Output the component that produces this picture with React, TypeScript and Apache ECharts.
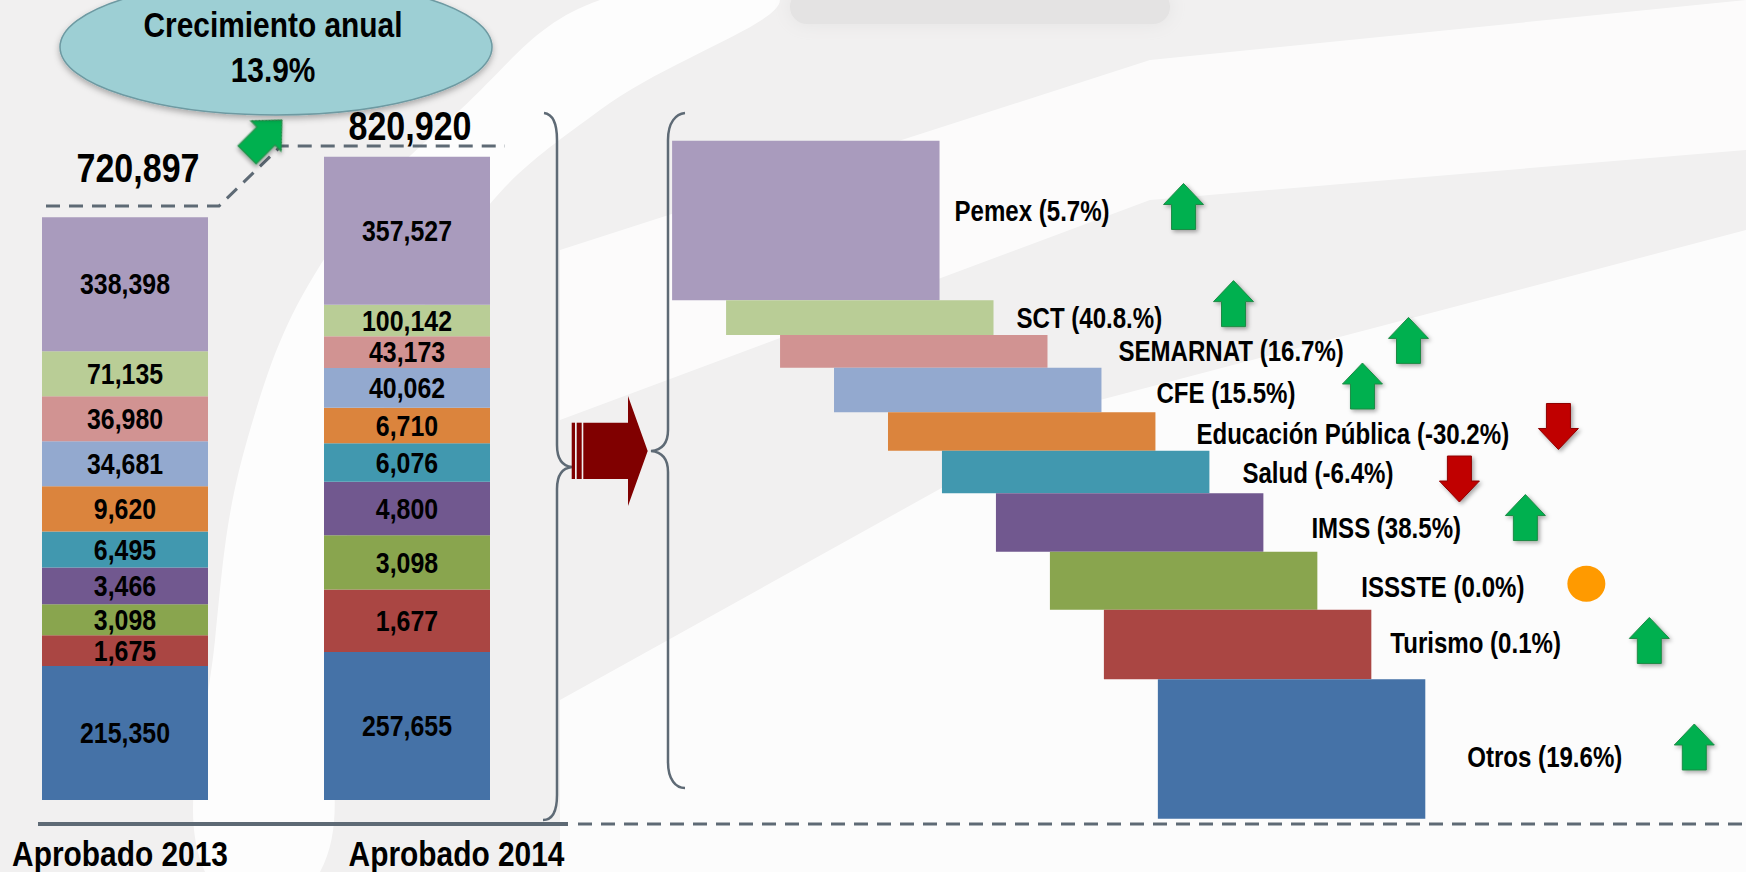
import React, { useEffect, useRef } from 'react';
import * as echarts from 'echarts';

// ---------- data ----------
const departments = ['Pemex', 'SCT', 'SEMARNAT', 'CFE', 'Educación Pública', 'Salud', 'IMSS', 'ISSSTE', 'Turismo', 'Otros'];
const approved2013 = [338398, 71135, 36980, 34681, 9620, 6495, 3466, 3098, 1675, 215350];
const approved2014 = [357527, 100142, 43173, 40062, 6710, 6076, 4800, 3098, 1677, 257655];
const years = ['Aprobado 2013', 'Aprobado 2014'];
const yearTotals = [720897, 820920];
const annualGrowth = 13.9;
const detailLabels = ['Pemex (5.7%)', 'SCT (40.8.%)', 'SEMARNAT (16.7%)', 'CFE (15.5%)', 'Educación Pública (-30.2%)', 'Salud (-6.4%)', 'IMSS (38.5%)', 'ISSSTE (0.0%)', 'Turismo (0.1%)', 'Otros (19.6%)'];
// the infographic is not drawn to scale: drawn block heights (display units)
const blockHeight2013 = [20.8, 7.0, 7.0, 7.0, 7.0, 5.6, 5.7, 4.8, 4.8, 20.8];
const blockHeight2014 = [23.0, 4.9, 4.9, 6.2, 5.5, 6.0, 8.3, 8.4, 9.7, 23.0];
const blockHeightDetail = [24.8, 5.4, 5.1, 6.9, 6.0, 6.6, 9.1, 9.0, 10.8, 21.7];

// ---------- style / layout ----------
const FONT = '"Liberation Sans Narrow", "Arial Narrow", "Liberation Sans", Arial, sans-serif';
const NARROW = 0.83; // horizontal squeeze to mimic a narrow typeface
const palette = ['#A99BBD', '#B9CD96', '#D19392', '#93A9CF', '#DB843D', '#4198AF', '#71588F', '#89A54E', '#AA4643', '#4572A7'];
const LINE = '#5E6A75';
const BAR_SPAN = 4.955; // block width in steps of the staircase
// label / marker nudges relative to block right edge and block middle: [labelDx, labelDy, markDx, markDy]
const calloutNudge = [
  [15, -9, 244, -14],
  [23, 1, 240, -14],
  [71, 0, 361, -11],
  [55, 3, 261, -4],
  [41, 3, 403, -5],
  [33, 1, 250, 7],
  [48, 6, 262, -5],
  [44, 6, 269, 3],
  [19, -1, 278, -4],
  [42, 8, 269, -2],
];
const totalNudge = [[13, -49], [3, -30.5]]; // total label offset from stack top
const yearNudge = [[-5, 53], [49.5, 53]]; // year label offset from stack base

const upArrow = [[0, -23], [20, -2], [12, -2], [12, 23], [-12, 23], [-12, -2], [-20, -2]];
const downArrow = upArrow.map(([x, y]) => [x, -y]);

const fmt = (v: number) => v.toLocaleString('en-US');

function narrowText(text: string, x: number, y: number, size: number, align = 'center', z2 = 10) {
  return {
    type: 'text',
    x, y, scaleX: NARROW, z2,
    style: { text, x: 0, y: 0, align, verticalAlign: 'middle', fontFamily: FONT, fontWeight: 'bold', fontSize: size, fill: '#000' },
  };
}

const braceRight = 'M544,113 C552,114 557,122 557,140 L557,445 C557,458 562,466 572,467 C562,468 557,476 557,489 L557,795 C557,812 552,820 543,820';
const braceLeft = 'M685,113 C676,114 668,122 668,140 L668,430 C668,443 662,450 651,451 C662,452 668,459 668,472 L668,762 C668,780 676,788 685,788';
echarts.graphic.registerShape('braceR', echarts.graphic.extendPath(braceRight, {}));
echarts.graphic.registerShape('braceL', echarts.graphic.extendPath(braceLeft, {}));

function buildOption() {
  const order = departments.map((_, i) => i).reverse(); // stack from bottom (Otros) to top (Pemex)
  const barSeries = order.map((i) => ({
    type: 'bar',
    name: departments[i],
    stack: 'total',
    xAxisIndex: 0,
    yAxisIndex: 0,
    barWidth: 166,
    data: [blockHeight2013[i], blockHeight2014[i]],
    itemStyle: { color: palette[i] },
  }));

  // value labels, totals and year captions, anchored on the stacked bars through the axes
  const barTextSeries = {
    type: 'custom',
    xAxisIndex: 0,
    yAxisIndex: 0,
    silent: true,
    z: 5,
    encode: { x: 0, y: 1 },
    data: years.map((_, k) => [k, 0]),
    renderItem: (params: any, api: any) => {
      const k = params.dataIndex;
      const heights = k === 0 ? blockHeight2013 : blockHeight2014;
      const vals = k === 0 ? approved2013 : approved2014;
      const children: any[] = [];
      let acc = 0;
      order.forEach((i) => {
        const p = api.coord([k, acc + heights[i] / 2]);
        children.push(narrowText(fmt(vals[i]), p[0], p[1], 30));
        acc += heights[i];
      });
      const top = api.coord([k, acc]);
      children.push(narrowText(fmt(yearTotals[k]), top[0] + totalNudge[k][0], top[1] + totalNudge[k][1], 41));
      const base = api.coord([k, 0]);
      children.push(narrowText(years[k], base[0] + yearNudge[k][0], base[1] + yearNudge[k][1], 36));
      return { type: 'group', children };
    },
  };

  const cum: number[] = [];
  let acc = 0;
  blockHeightDetail.forEach((h) => { cum.push(acc); acc += h; });
  const detailTotal = acc;

  const stairSeries = {
    type: 'custom',
    xAxisIndex: 1,
    yAxisIndex: 1,
    encode: { x: 0, y: [1, 2] },
    data: departments.map((_, i) => [i, cum[i], cum[i] + blockHeightDetail[i]]),
    renderItem: (params: any, api: any) => {
      const i = params.dataIndex;
      const p0 = api.coord([api.value(0), api.value(1)]);
      const p1 = api.coord([api.value(0) + BAR_SPAN, api.value(2)]);
      const right = p1[0];
      const cy = (p0[1] + p1[1]) / 2;
      const n = calloutNudge[i];
      const g = Math.round((approved2014[i] / approved2013[i] - 1) * 1000) / 10;
      const markStyle = {
        shadowBlur: 4, shadowOffsetX: 2, shadowOffsetY: 2, shadowColor: 'rgba(0,0,0,0.35)',
        lineWidth: 1,
      };
      let mark: any;
      if (g > 0) {
        mark = { type: 'polygon', x: right + n[2], y: cy + n[3], shape: { points: upArrow }, style: { ...markStyle, fill: '#00B050', stroke: '#1F8A45' } };
      } else if (g < 0) {
        mark = { type: 'polygon', x: right + n[2], y: cy + n[3], shape: { points: downArrow }, style: { ...markStyle, fill: '#C00000', stroke: '#8E0000' } };
      } else {
        mark = { type: 'ellipse', x: right + n[2], y: cy + n[3], shape: { cx: 0, cy: 0, rx: 19, ry: 18 }, style: { fill: '#FF9A00' } };
      }
      return {
        type: 'group',
        children: [
          { type: 'rect', shape: { x: p0[0], y: p0[1], width: p1[0] - p0[0], height: p1[1] - p0[1] }, style: { fill: palette[i] } },
          narrowText(detailLabels[i], right + n[0], cy + n[1], 29, 'left'),
          mark,
        ],
      };
    },
  };

  const graphic: any[] = [
    // background swooshes
    {
      type: 'polygon', z: -10, silent: true,
      shape: { smooth: 0.4, points: [[205, 872], [215, 640], [250, 430], [330, 250], [460, 110], [600, 0], [780, 0], [600, 110], [470, 230], [380, 420], [330, 640], [320, 872]] },
      style: { fill: '#FFFFFF', opacity: 0.85 },
    },
    {
      type: 'polygon', z: -10, silent: true,
      shape: { points: [[560, 250], [1150, 60], [1746, 0], [1746, 150], [1150, 200], [560, 420]] },
      style: { fill: '#FFFFFF', opacity: 0.75 },
    },
    {
      type: 'polygon', z: -10, silent: true,
      shape: { points: [[560, 700], [1100, 400], [1746, 230], [1746, 872], [560, 872]] },
      style: { fill: '#FFFFFF', opacity: 0.8 },
    },
    {
      type: 'rect', z: -9, silent: true,
      shape: { x: 790, y: -10, width: 380, height: 34, r: 17 },
      style: { fill: '#E4E3E3', shadowBlur: 18, shadowColor: '#E4E3E3' },
    },
    // braces and transfer arrow
    { type: 'braceR', z: 50, style: { stroke: LINE, lineWidth: 2.5, fill: 'none' } },
    { type: 'braceL', z: 50, style: { stroke: LINE, lineWidth: 2.5, fill: 'none' } },
    { type: 'rect', z: 51, shape: { x: 571.7, y: 422.7, width: 3.3, height: 56.3 }, style: { fill: '#800000' } },
    { type: 'rect', z: 51, shape: { x: 576.7, y: 422.7, width: 5, height: 56.3 }, style: { fill: '#800000' } },
    {
      type: 'polygon', z: 51,
      shape: { points: [[583.3, 422.7], [628, 422.7], [628, 396], [647.7, 451], [628, 506], [628, 479], [583.3, 479]] },
      style: { fill: '#800000' },
    },
    // base lines
    { type: 'line', z: 40, shape: { x1: 38, y1: 824, x2: 568, y2: 824 }, style: { stroke: LINE, lineWidth: 4 } },
    { type: 'line', z: 40, shape: { x1: 578, y1: 824, x2: 1746, y2: 824 }, style: { stroke: LINE, lineWidth: 3, lineDash: [14, 9] } },
    // totals connector
    {
      type: 'polyline', z: 40,
      shape: { points: [[46, 206], [219, 206], [281, 146], [505, 146]] },
      style: { stroke: LINE, lineWidth: 3, lineDash: [14, 9], fill: 'none' },
    },
    {
      type: 'polygon', z: 45, x: 264.5, y: 137.5, rotation: -Math.PI / 4, scaleX: 1.07, scaleY: 1.07,
      shape: { points: upArrow },
      style: { fill: '#00B050', stroke: '#1F8A45', lineWidth: 1, shadowBlur: 4, shadowOffsetX: 2, shadowOffsetY: 2, shadowColor: 'rgba(0,0,0,0.35)' },
    },
    {
      type: 'ellipse', z: 45, shape: { cx: 276, cy: 47, rx: 216, ry: 68 },
      style: { fill: '#9DCFD4', stroke: '#6E9AA2', lineWidth: 1.5, shadowBlur: 6, shadowOffsetY: 3, shadowColor: 'rgba(0,0,0,0.3)' },
    },
    {
      type: 'text', z: 46, x: 273, y: 47, scaleX: NARROW,
      style: {
        text: `Crecimiento anual\n${annualGrowth}%`, x: 0, y: 0, align: 'center', verticalAlign: 'middle', lineHeight: 45,
        fontFamily: FONT, fontWeight: 'bold', fontSize: 36, fill: '#000',
      },
    },
  ];

  return {
    animation: false,
    backgroundColor: '#F1F0F0',
    grid: [
      { left: 125, width: 282, top: 156, height: 644 },
      { left: 672.1, width: 753.2, top: 140.7, height: 678.1 },
    ],
    xAxis: [
      {
        type: 'category', gridIndex: 0, data: years, boundaryGap: false,
        axisLine: { show: false }, axisTick: { show: false }, splitLine: { show: false }, axisLabel: { show: false },
      },
      { type: 'value', gridIndex: 1, min: 0, max: departments.length - 1 + BAR_SPAN, show: false },
    ],
    yAxis: [
      { type: 'value', gridIndex: 0, min: 0, max: 100, show: false },
      { type: 'value', gridIndex: 1, min: 0, max: detailTotal, inverse: true, show: false },
    ],
    series: [...barSeries, barTextSeries, stairSeries],
    graphic,
  };
}

export default function App() {
  const ref = useRef<HTMLDivElement>(null);
  useEffect(() => {
    document.body.style.margin = '0';
    if (!ref.current) return;
    const chart = echarts.init(ref.current, undefined, { renderer: 'svg' });
    chart.setOption(buildOption() as any);
    return () => chart.dispose();
  }, []);
  return <div ref={ref} style={{ position: 'fixed', left: 0, top: 0, width: 1746, height: 872 }} />;
}
